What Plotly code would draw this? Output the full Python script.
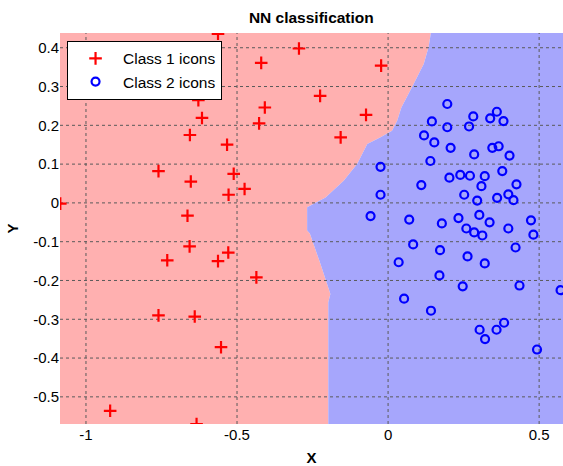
import plotly.graph_objects as go

# Class 1 samples (drawn as red crosses)
class1_x = [-1.085, -0.563, -0.420, -0.408, -0.427, -0.628, -0.616, -0.656, -0.533, -0.760,
            -0.511, -0.653, -0.475, -0.528, -0.664, -0.657, -0.731, -0.563, -0.529, -0.436,
            -0.760, -0.640, -0.553, -0.920, -0.634, -0.295, -0.023, -0.225, -0.073, -0.157]
class1_y = [-0.002, 0.436, 0.361, 0.246, 0.205, 0.265, 0.219, 0.175, 0.150, 0.082,
            0.075, 0.055, 0.036, 0.021, -0.033, -0.112, -0.148, -0.150, -0.128, -0.192,
            -0.290, -0.293, -0.372, -0.536, -0.570, 0.398, 0.354, 0.276, 0.227, 0.169]

# Class 2 samples (drawn as blue circles)
class2_x = [0.196, 0.145, 0.196, 0.268, 0.119, 0.153, 0.207, 0.140, -0.025, 0.203,
            0.239, 0.271, 0.110, 0.252, -0.025, -0.058, 0.070, 0.233, 0.360, 0.282,
            0.338, 0.382, 0.345, 0.366, 0.285, 0.402, 0.378, 0.320, 0.425, 0.309,
            0.361, 0.398, 0.415, 0.295, 0.302, 0.336, 0.473, 0.178, 0.259, 0.083,
            0.172, 0.263, 0.035, 0.170, 0.247, 0.053, 0.142, 0.285, 0.312, 0.398,
            0.481, 0.422, 0.320, 0.435, 0.571, 0.384, 0.303, 0.359, 0.321, 0.493]
class2_y = [0.255, 0.210, 0.195, 0.197, 0.174, 0.156, 0.142, 0.108, 0.093, 0.065,
            0.072, 0.070, 0.046, 0.021, 0.021, -0.034, -0.043, -0.039, 0.235, 0.223,
            0.218, 0.211, 0.142, 0.146, 0.125, 0.122, 0.082, 0.069, 0.048, 0.043,
            0.013, 0.022, 0.007, 0.006, -0.031, -0.050, -0.045, -0.053, -0.066, -0.107,
            -0.122, -0.138, -0.153, -0.187, -0.215, -0.247, -0.278, -0.076, -0.084, -0.066,
            -0.082, -0.115, -0.156, -0.213, -0.225, -0.309, -0.327, -0.327, -0.351, -0.378]

# Nearest-neighbour decision boundary, traced from top to bottom
boundary_x = [0.142, 0.134, 0.118, 0.079, 0.044, 0.030, 0.013, -0.025, -0.069, -0.102,
              -0.147, -0.207, -0.268, -0.268, -0.259, -0.224, -0.191, -0.198, -0.198]
boundary_y = [0.440, 0.401, 0.358, 0.298, 0.246, 0.212, 0.186, 0.169, 0.152, 0.101,
              0.057, 0.014, -0.011, -0.071, -0.079, -0.157, -0.235, -0.256, -0.575]

x_range = [-1.086, 0.579]
y_range = [-0.570, 0.438]

x_ticks = [-1, -0.5, 0, 0.5]
x_tick_text = ["-1", "-0.5", "0", "0.5"]
y_ticks = [-0.5, -0.4, -0.3, -0.2, -0.1, 0, 0.1, 0.2, 0.3, 0.4]
y_tick_text = ["-0.5", "-0.4", "-0.3", "-0.2", "-0.1", "0", "0.1", "0.2", "0.3", "0.4"]

FONT = "Liberation Sans, Arial, sans-serif"
pad = 0.05
x_lo, x_hi = x_range[0] - pad, x_range[1] + pad
y_lo, y_hi = y_range[0] - pad, y_range[1] + pad

fig = go.Figure()

# Class 1 region: everything left of the boundary
fig.add_trace(go.Scatter(
    x=[x_lo, x_lo] + boundary_x[::-1] + [boundary_x[0]],
    y=[y_hi, y_lo] + [y_lo] + boundary_y[::-1][1:] + [y_hi],
    fill="toself", fillcolor="rgb(255,176,176)", mode="none",
    hoverinfo="skip", showlegend=False))

# Class 2 region: everything right of the boundary
fig.add_trace(go.Scatter(
    x=[boundary_x[0]] + boundary_x + [boundary_x[-1], x_hi, x_hi],
    y=[y_hi] + boundary_y + [y_lo, y_lo, y_hi],
    fill="toself", fillcolor="rgb(166,166,252)", mode="none",
    hoverinfo="skip", showlegend=False))

# Dotted grid drawn over the regions
gx, gy = [], []
for t in x_ticks:
    gx += [t, t, None]
    gy += [y_range[0], y_range[1], None]
for t in y_ticks:
    gx += [x_range[0], x_range[1], None]
    gy += [t, t, None]
fig.add_trace(go.Scatter(
    x=gx, y=gy, mode="lines",
    line=dict(color="rgb(90,90,90)", width=1, dash="dot"),
    hoverinfo="skip", showlegend=False))

fig.add_trace(go.Scatter(
    x=class1_x, y=class1_y, mode="markers", name="Class 1 icons",
    marker=dict(symbol="cross-thin", size=9, color="red",
                line=dict(color="red", width=2.2))))
fig.add_trace(go.Scatter(
    x=class2_x, y=class2_y, mode="markers", name="Class 2 icons",
    marker=dict(symbol="circle-open", size=8, color="blue",
                line=dict(color="blue", width=2.2))))

fig.update_layout(
    width=563, height=466,
    margin=dict(l=60, r=0, t=33, b=42),
    paper_bgcolor="white", plot_bgcolor="white",
    font=dict(family=FONT, size=15, color="black"),
    title=dict(text="<b>NN classification</b>", x=0.553, xanchor="center",
               y=0.963, yanchor="middle", font=dict(size=15.5)),
    legend=dict(x=0.014, y=0.98, xanchor="left", yanchor="top",
                bgcolor="white", bordercolor="black", borderwidth=1,
                font=dict(size=15.5), tracegroupgap=0, itemwidth=45,
                itemsizing="trace"),
    showlegend=True,
)
fig.update_xaxes(range=x_range, tickvals=x_ticks, ticktext=x_tick_text,
                 showgrid=False, zeroline=False, showline=False, ticks="",
                 title=dict(text="<b>X</b>", standoff=10, font=dict(size=15)))
fig.update_yaxes(range=y_range, tickvals=y_ticks, ticktext=y_tick_text,
                 showgrid=False, zeroline=False, showline=False, ticks="",
                 title=dict(text="<b>Y</b>", standoff=10, font=dict(size=15)))

fig.write_html("out.html")
